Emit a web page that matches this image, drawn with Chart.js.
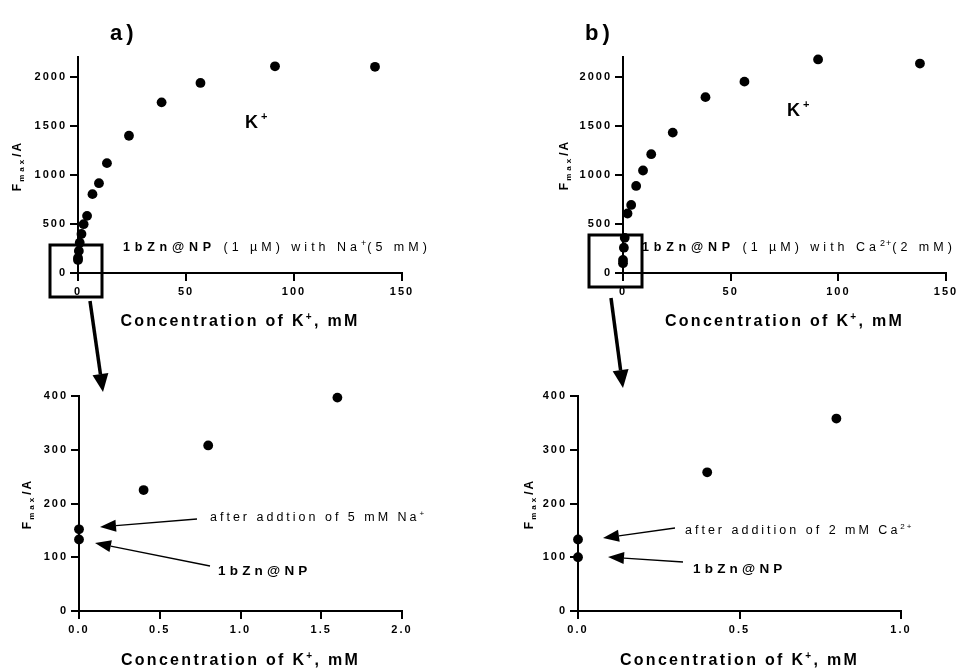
<!DOCTYPE html>
<html>
<head>
<meta charset="utf-8">
<script src="https://cdn.jsdelivr.net/npm/chart.js@4.4.1/dist/chart.umd.min.js"></script>
<style>
body{margin:0;background:#fff;}
#wrap{position:relative;width:971px;height:670px;}
canvas{position:absolute;left:0;top:0;}
</style>
</head>
<body>
<div id="wrap">
<canvas id="topA" width="971" height="670"></canvas>
<canvas id="topB" width="971" height="670"></canvas>
<canvas id="zoomA" width="971" height="670"></canvas>
<canvas id="zoomB" width="971" height="670"></canvas>
</div>
<script>
const FONT = '"Liberation Sans", Arial, sans-serif';
const W = 971, H = 670, YW = 60, XH = 40;

// a) K+ titration of 1bZn@NP with Na+ (5 mM)
const concA = [0, 0, 0.4, 0.8, 1.6, 2.6, 4.2, 6.7, 9.7, 13.4, 23.6, 38.7, 56.7, 91.2, 137.5];
const fmaxA = [133, 152, 225, 308, 397, 497, 582, 803, 915, 1119, 1398, 1738, 1936, 2105, 2100];
// b) K+ titration of 1bZn@NP with Ca2+ (2 mM)
const concB = [0, 0, 0.4, 0.8, 2.1, 3.8, 6.1, 9.3, 13.1, 23.1, 38.3, 56.4, 90.6, 137.9];
const fmaxB = [100, 133, 258, 358, 606, 693, 887, 1044, 1210, 1430, 1791, 1949, 2175, 2133];

// tick values
const xTicksTop = [0, 50, 100, 150];
const yTicksTop = [0, 500, 1000, 1500, 2000];
const xTicksZoomA = [0, 0.5, 1, 1.5, 2];
const xTicksZoomB = [0, 0.5, 1];
const yTicksZoom = [0, 100, 200, 300, 400];

// plot areas on the page: left, top, right, bottom
const areas = {
    topA: [78, 57, 402, 273],
    topB: [623, 57, 946, 273],
    zoomA: [79, 396, 402, 611],
    zoomB: [578, 396, 901, 611]
};

const spacing = {id: 'spacing', beforeDraw(c){ c.ctx.letterSpacing = '2px'; }};

function axis(min, max, ticks, fmt, dir){
    return {
        type: 'linear', min, max,
        border: {display: true, color: '#000', width: 2},
        grid: {drawOnChartArea: false, drawTicks: true, tickLength: 8, tickWidth: 2, lineWidth: 2, color: '#000'},
        ticks: {color: '#000', font: {family: FONT, size: 11, weight: 'bold'}, padding: dir === 'x' ? 4 : 3,
                callback: fmt, autoSkip: false, maxRotation: 0},
        afterBuildTicks: s => { s.ticks = ticks.map(v => ({value: v})); },
        afterFit: s => { if(dir === 'x') s.height = XH; else s.width = YW; }
    };
}

function panel(id, xs, ys, xmax, ymax, xt, yt, xfmt, extra){
    const a = areas[id];
    const pts = xs.map((x, i) => ({x, y: ys[i]})).filter(p => p.x <= xmax);
    return new Chart(document.getElementById(id), {
        type: 'scatter',
        data: {datasets: [{data: pts, pointRadius: 4.9, pointHoverRadius: 4.9, backgroundColor: '#000', borderWidth: 0, clip: false}]},
        options: {
            responsive: false, animation: false, events: [],
            layout: {padding: {left: a[0] - YW, top: a[1], right: W - a[2], bottom: H - a[3] - XH}},
            plugins: {legend: {display: false}, tooltip: {enabled: false}},
            scales: {
                x: axis(0, xmax, xt, xfmt, 'x'),
                y: axis(0, ymax, yt, v => String(v), 'y')
            }
        },
        plugins: [spacing].concat(extra || [])
    });
}

// text made of pieces: [text, font, letterSpacing, rise]
function rich(ctx, x, y, parts, align){
    let total = 0;
    const ws = parts.map(p => {
        ctx.font = p[1];
        ctx.letterSpacing = '0px';
        const w = ctx.measureText(p[0]).width + p[2] * [...p[0]].length;
        total += w;
        return w;
    });
    let cx = align === 'center' ? x - total / 2 : x;
    parts.forEach((p, i) => {
        ctx.font = p[1];
        ctx.letterSpacing = p[2] + 'px';
        ctx.fillText(p[0], cx, y - (p[3] || 0));
        cx += ws[i];
    });
}

function arrow(ctx, x1, y1, x2, y2, lw, hl, hw){
    const a = Math.atan2(y2 - y1, x2 - x1);
    const bx = x2 - hl * Math.cos(a), by = y2 - hl * Math.sin(a);
    ctx.lineWidth = lw;
    ctx.beginPath(); ctx.moveTo(x1, y1); ctx.lineTo(bx, by); ctx.stroke();
    ctx.beginPath();
    ctx.moveTo(x2, y2);
    ctx.lineTo(bx + hw * Math.sin(a), by - hw * Math.cos(a));
    ctx.lineTo(bx - hw * Math.sin(a), by + hw * Math.cos(a));
    ctx.closePath(); ctx.fill();
}

const boxes = [[50, 245, 102, 297], [589, 235, 642, 287]];
const bigArrows = [[90, 301, 103, 392], [611, 298, 623, 388]];
const smallArrows = [[197, 519, 100, 527], [210, 566, 95, 543], [675, 528, 603, 538], [683, 562, 608, 557]];

const B = s => 'bold ' + s + 'px ' + FONT;
const N = s => s + 'px ' + FONT;

const decor = {
    id: 'decor',
    afterDraw(c){
        const ctx = c.ctx;
        ctx.save();
        ctx.fillStyle = '#000';
        ctx.strokeStyle = '#000';
        ctx.textBaseline = 'alphabetic';
        ctx.textAlign = 'left';

        // panel letters
        rich(ctx, 110, 40, [['a)', B(22), 4]]);
        rich(ctx, 585, 40, [['b)', B(22), 4]]);

        // K+ labels
        rich(ctx, 245, 128, [['K', B(18), 3], ['+', B(11), 0, 8]]);
        rich(ctx, 787, 116, [['K', B(18), 3], ['+', B(11), 0, 8]]);

        // conditions
        rich(ctx, 123, 251, [['1bZn@NP', B(12.5), 4.8], [' (1 \u00b5M) with Na', N(12.5), 4], ['+', N(9), 1, 5], ['(5 mM)', N(12.5), 4]]);
        rich(ctx, 642, 251, [['1bZn@NP', B(12.5), 4.8], [' (1 \u00b5M) with Ca', N(12.5), 4], ['2+', N(9), 1, 5], ['(2 mM)', N(12.5), 4]]);

        // x axis titles
        const xt = (cx, y) => rich(ctx, cx, y, [['Concentration of K', B(16), 2.3], ['+', B(10), 2.3, 6], [', mM', B(16), 2.3]], 'center');
        xt((areas.topA[0] + areas.topA[2]) / 2, 326);
        xt((areas.topB[0] + areas.topB[2]) / 2, 326);
        xt((areas.zoomA[0] + areas.zoomA[2]) / 2, 665);
        xt((areas.zoomB[0] + areas.zoomB[2]) / 2, 665);

        // y axis titles
        const yt = (x, cy) => {
            ctx.save();
            ctx.translate(x, cy);
            ctx.rotate(-Math.PI / 2);
            rich(ctx, 0, 0, [['F', B(12), 2], ['max', B(8), 3, -3], ['/A', B(12), 2]], 'center');
            ctx.restore();
        };
        yt(21, 166);
        yt(31, 504);
        yt(568, 165);
        yt(533, 504);

        // zoom boxes and arrows
        ctx.lineWidth = 3;
        boxes.forEach(b => ctx.strokeRect(b[0], b[1], b[2] - b[0], b[3] - b[1]));
        bigArrows.forEach(a => arrow(ctx, a[0], a[1], a[2], a[3], 3.5, 18, 8));
        smallArrows.forEach(a => arrow(ctx, a[0], a[1], a[2], a[3], 1.3, 16, 6));

        // point annotations
        rich(ctx, 210, 521, [['after addtion of 5 mM Na', N(12.5), 3], ['+', N(8), 1, 5]]);
        rich(ctx, 218, 575, [['1bZn@NP', B(13.5), 4.2]]);
        rich(ctx, 685, 534, [['after addition of 2 mM Ca', N(12.5), 3], ['2+', N(8), 2, 5]]);
        rich(ctx, 693, 573, [['1bZn@NP', B(13.5), 4.2]]);
        ctx.restore();
    }
};

const one = v => v.toFixed(1);
panel('topA', concA, fmaxA, 150, 2200, xTicksTop, yTicksTop, v => String(v));
panel('topB', concB, fmaxB, 150, 2200, xTicksTop, yTicksTop, v => String(v));
panel('zoomA', concA, fmaxA, 2, 400, xTicksZoomA, yTicksZoom, one);
panel('zoomB', concB, fmaxB, 1, 400, xTicksZoomB, yTicksZoom, one, [decor]);
</script>
</body>
</html>
